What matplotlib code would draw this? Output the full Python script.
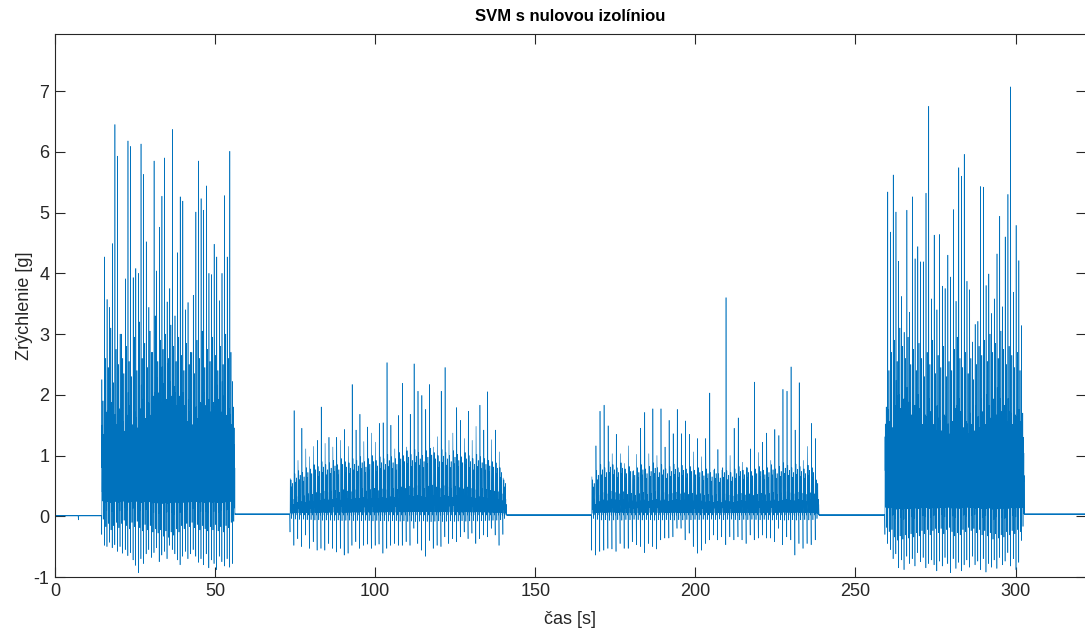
import numpy as np
import matplotlib
matplotlib.use("Agg")
import matplotlib.pyplot as plt

plt.rcParams["font.family"] = ["Liberation Sans", "DejaVu Sans"]
plt.rcParams["axes.unicode_minus"] = False

# ---- activity bursts (time in s) ----
burst_start = [14.6, 73.4, 167.6, 259.2]
burst_end = [56.2, 141.1, 238.7, 302.7]
burst_kind = ["run", "walk", "walk", "run"]
band_floor = [0.30, 0.02, 0.02, 0.20]

# burst 1 (running)
peaks_1 = [2.25, 4.27, 3.57, 3.44, 4.49, 6.45, 5.93, 3.00, 2.60, 3.91,
           6.18, 6.09, 3.93, 4.08, 4.00, 6.13, 5.63, 4.52, 3.44, 2.70,
           5.85, 4.04, 4.76, 5.27, 5.90, 3.53, 3.75, 6.37, 3.30, 4.34,
           5.26, 5.19, 3.40, 3.52, 2.70, 3.64, 5.01, 5.85, 5.23, 5.04,
           5.44, 4.00, 3.98, 4.48, 4.27, 3.55, 4.00, 5.28, 4.27, 6.01,
           2.22]
troughs_1 = [-0.30, -0.48, -0.50, -0.43, -0.52, -0.47, -0.58, -0.50, -0.61, -0.55,
             -0.65, -0.60, -0.72, -0.81, -0.93, -0.70, -0.78, -0.62, -0.55, -0.68,
             -0.60, -0.52, -0.75, -0.64, -0.58, -0.70, -0.48, -0.55, -0.62, -0.72,
             -0.80, -0.66, -0.58, -0.70, -0.62, -0.55, -0.66, -0.76, -0.70, -0.80,
             -0.62, -0.85, -0.72, -0.78, -0.88, -0.66, -0.75, -0.82, -0.70, -0.84,
             -0.78]
band_top_1 = [1.30, 1.65, 1.50, 1.80, 1.60, 1.45, 1.70, 1.50, 1.35, 1.60,
              1.75, 1.45, 1.65, 1.40, 1.70, 1.85, 1.55, 1.80, 1.60, 1.90,
              1.75, 1.95, 1.80, 2.10, 1.85, 2.15, 1.90, 2.05, 1.75, 1.90,
              1.60, 1.75, 1.50, 1.65, 1.45, 1.70, 1.55, 1.80, 1.60, 1.75,
              1.85, 1.65, 1.80, 1.55, 1.85, 1.65, 1.90, 1.60, 1.70, 1.45,
              1.40]
second_1 = [1.90, 2.60, 2.45, 3.10, 2.20, 2.75, 2.50, 3.00, 2.35, 2.80,
            2.55, 2.30, 2.95, 2.40, 3.20, 2.60, 2.85, 2.45, 3.05, 2.70,
            3.30, 2.55, 2.90, 2.75, 3.00, 2.60, 3.15, 2.80, 2.55, 2.95,
            2.65, 2.40, 2.85, 2.50, 2.70, 2.35, 2.90, 2.60, 3.05, 2.45,
            2.75, 2.55, 2.95, 2.65, 2.40, 2.80, 2.50, 3.00, 2.60, 2.70,
            1.80]

# burst 2 (walking)
peaks_2 = [0.62, 1.74, 0.92, 1.45, 1.11, 0.98, 1.15, 1.25, 1.80, 1.20,
           1.30, 1.14, 1.30, 1.25, 1.43, 1.15, 2.17, 1.42, 1.68, 1.23,
           1.47, 1.37, 1.22, 1.53, 1.54, 2.53, 1.50, 1.11, 1.66, 2.19,
           1.14, 1.68, 2.51, 2.06, 1.99, 1.76, 2.17, 1.14, 1.31, 2.06,
           2.45, 1.25, 1.37, 1.79, 1.58, 1.28, 1.73, 1.25, 1.48, 1.83,
           1.42, 2.05, 1.26, 1.42, 1.06, 0.63]
troughs_2 = [-0.26, -0.48, -0.37, -0.50, -0.31, -0.53, -0.42, -0.56, -0.53, -0.56,
             -0.45, -0.53, -0.59, -0.53, -0.64, -0.61, -0.48, -0.42, -0.53, -0.48,
             -0.46, -0.53, -0.48, -0.46, -0.61, -0.53, -0.48, -0.45, -0.48, -0.48,
             -0.42, -0.48, -0.20, -0.45, -0.56, -0.66, -0.40, -0.53, -0.48, -0.50,
             -0.34, -0.45, -0.37, -0.42, -0.34, -0.26, -0.37, -0.28, -0.45, -0.37,
             -0.31, -0.34, -0.20, -0.31, -0.48, -0.30]
band_top_2 = [0.60, 0.70, 0.75, 0.72, 0.80, 0.78, 0.85, 0.82, 0.90, 0.85,
              0.88, 0.92, 0.85, 0.95, 0.90, 0.88, 0.95, 0.92, 0.98, 0.90,
              0.95, 1.00, 0.92, 0.98, 0.95, 1.02, 0.98, 0.95, 1.05, 1.00,
              1.08, 1.02, 1.10, 1.05, 1.00, 1.08, 1.12, 1.05, 1.00, 1.10,
              1.05, 1.00, 1.08, 1.02, 0.98, 1.05, 1.00, 0.95, 1.02, 0.98,
              0.95, 0.92, 0.90, 0.88, 0.80, 0.60]

# burst 3 (walking)
peaks_3 = [0.65, 1.16, 1.73, 1.83, 1.49, 1.03, 1.35, 1.03, 0.87, 1.16,
           0.74, 1.02, 1.45, 1.71, 1.03, 1.77, 1.00, 1.77, 1.14, 1.58,
           1.36, 1.76, 1.36, 1.57, 1.35, 1.06, 1.28, 0.98, 1.28, 2.03,
           0.76, 1.10, 0.76, 3.60, 1.00, 1.45, 1.62, 0.89, 0.81, 1.11,
           2.21, 1.05, 1.22, 1.37, 0.92, 1.43, 1.33, 2.09, 2.06, 2.46,
           1.42, 2.20, 0.92, 1.15, 1.53, 1.28]
troughs_3 = [-0.56, -0.64, -0.58, -0.56, -0.53, -0.54, -0.58, -0.45, -0.53, -0.53,
             -0.42, -0.47, -0.50, -0.60, -0.45, -0.50, -0.54, -0.39, -0.36, -0.36,
             -0.34, -0.20, -0.20, -0.39, -0.28, -0.50, -0.61, -0.56, -0.45, -0.39,
             -0.31, -0.39, -0.34, -0.47, -0.34, -0.39, -0.34, -0.39, -0.45, -0.31,
             -0.39, -0.36, -0.31, -0.36, -0.36, -0.42, -0.20, -0.47, -0.34, -0.39,
             -0.64, -0.45, -0.53, -0.45, -0.47, -0.39]
band_top_3 = [0.60, 0.75, 0.85, 0.80, 0.90, 0.85, 0.80, 0.88, 0.78, 0.82,
              0.75, 0.80, 0.85, 0.78, 0.82, 0.88, 0.80, 0.85, 0.78, 0.82,
              0.86, 0.80, 0.84, 0.78, 0.82, 0.76, 0.80, 0.74, 0.78, 0.72,
              0.78, 0.70, 0.80, 0.75, 0.72, 0.78, 0.82, 0.76, 0.80, 0.74,
              0.78, 0.82, 0.76, 0.80, 0.85, 0.78, 0.82, 0.88, 0.84, 0.80,
              0.86, 0.82, 0.78, 0.84, 0.80, 0.60]

# burst 4 (running)
peaks_4 = [1.31, 5.34, 4.68, 5.62, 5.01, 4.20, 3.62, 3.03, 5.04, 3.36,
           5.26, 4.24, 4.44, 4.19, 4.19, 5.32, 6.75, 3.58, 4.63, 3.40,
           4.64, 3.79, 3.75, 4.30, 3.94, 5.05, 3.54, 5.74, 5.60, 5.96,
           3.87, 3.73, 2.87, 3.16, 3.21, 5.43, 5.42, 3.80, 3.99, 3.34,
           3.58, 4.32, 4.94, 3.45, 4.60, 5.30, 7.07, 3.69, 4.79, 4.21,
           3.14]
troughs_4 = [-0.30, -0.45, -0.55, -0.70, -0.62, -0.85, -0.72, -0.88, -0.66, -0.78,
             -0.70, -0.82, -0.60, -0.75, -0.68, -0.85, -0.78, -0.72, -0.80, -0.90,
             -0.74, -0.82, -0.68, -0.78, -0.93, -0.70, -0.86, -0.76, -0.90, -0.80,
             -0.72, -0.84, -0.66, -0.80, -0.74, -0.88, -0.70, -0.92, -0.78, -0.84,
             -0.72, -0.86, -0.68, -0.80, -0.74, -0.60, -0.82, -0.70, -0.88, -0.76,
             -0.40]
band_top_4 = [1.30, 1.50, 1.40, 1.75, 1.90, 1.70, 1.85, 1.65, 1.80, 1.60,
              1.75, 1.55, 1.70, 1.45, 1.60, 1.40, 1.65, 1.45, 1.35, 1.55,
              1.35, 1.60, 1.40, 1.30, 1.50, 1.70, 1.55, 1.65, 1.40, 1.50,
              1.30, 1.45, 1.35, 1.55, 1.40, 1.65, 1.45, 1.70, 1.55, 1.85,
              1.60, 1.80, 1.65, 1.75, 1.50, 1.65, 1.45, 1.60, 1.40, 1.50,
              1.25]
second_4 = [1.80, 2.40, 2.70, 2.90, 2.55, 3.10, 2.80, 2.60, 2.95, 2.50,
            2.75, 2.40, 2.85, 2.60, 2.30, 2.70, 2.50, 2.90, 2.35, 2.65,
            2.45, 2.80, 2.30, 2.55, 2.40, 2.75, 2.95, 2.60, 2.45, 2.70,
            2.35, 2.60, 2.25, 2.50, 2.80, 2.65, 2.90, 2.55, 3.00, 2.70,
            2.85, 2.60, 3.05, 2.75, 2.50, 2.80, 2.65, 2.45, 2.70, 2.40,
            1.70]

# ---- resting segments ----
rest_level = [0.010, 0.035, 0.020, 0.020, 0.035]
rest_ripple = 0.012
blip_time = [7.3]
blip_value = [-0.06]
t_end = 322.0

# stride waveform templates: fraction of the band between floor and top
run_shape = [0.50, 1.20, 0.10, 0.75, 0.30, 0.95, -0.05, 0.60, 0.40,
             0.85, -0.35, 0.65, 0.20, 1.05, 0.05, 0.55, 0.35, 0.80, -0.15, 0.45]
walk_shape = [0.55, 0.05, 1.00, 0.15, 0.80, -0.10, 0.65, 0.05,
              0.90, 0.20, 0.45, 0.00, 0.30, 0.05]

peaks = [peaks_1, peaks_2, peaks_3, peaks_4]
troughs = [troughs_1, troughs_2, troughs_3, troughs_4]
band_top = [band_top_1, band_top_2, band_top_3, band_top_4]
second = [second_1, None, None, second_4]


def stride_values(kind, lo, trough, peak, top, sec):
    body = [lo + (top - lo) * s for s in (run_shape if kind == "run" else walk_shape)]
    if kind == "run":
        return [trough, peak] + body[:9] + [sec] + body[9:]
    return [trough, peak] + body


def rest_segment(t0, t1, level):
    n = max(int(round((t1 - t0) / 0.08)), 2)
    ts = list(np.linspace(t0, t1, n, endpoint=False))
    vs = [level + (rest_ripple / 2 if k % 2 else -rest_ripple / 2) for k in range(n)]
    for bt, bv in zip(blip_time, blip_value):
        if t0 <= bt < t1:
            k = int(np.argmin(np.abs(np.array(ts) - bt)))
            vs[k] = bv
    return ts, vs


t_all, v_all = [], []
edges = [0.0] + [x for pair in zip(burst_start, burst_end) for x in pair] + [t_end]
for b in range(len(burst_start) + 1):
    ts, vs = rest_segment(edges[2 * b], edges[2 * b + 1], rest_level[b])
    t_all += ts
    v_all += vs
    if b == len(burst_start):
        break
    t0, t1 = burst_start[b], burst_end[b]
    n = len(peaks[b])
    dt = (t1 - t0) / n
    for i in range(n):
        sec = second[b][i] if second[b] is not None else None
        vals = stride_values(burst_kind[b], band_floor[b], troughs[b][i],
                             peaks[b][i], band_top[b][i], sec)
        ts = np.linspace(t0 + i * dt, t0 + (i + 1) * dt, len(vals), endpoint=False)
        t_all += list(ts)
        v_all += vals
t_all.append(t_end)
v_all.append(rest_level[-1])

# ---- figure ----
fig = plt.figure(figsize=(10.85, 6.28), dpi=100)
ax = fig.add_axes([55 / 1085, 51 / 628, 1031 / 1085, 543 / 628])
ax.plot(t_all, v_all, color="#0072BD", lw=0.42)

ax.set_xlim(0, 322)
ax.set_ylim(-1, 7.94)
ax.set_xticks([0, 50, 100, 150, 200, 250, 300])
ax.set_yticks(range(-1, 8))

axis_col = "#262626"
for sp in ax.spines.values():
    sp.set_color(axis_col)
    sp.set_linewidth(0.8)
ax.tick_params(direction="in", length=7.5, width=0.8, colors=axis_col,
               labelsize=13, top=True, right=True, pad=4)

ax.set_title("SVM s nulovou izolíniou", fontsize=12, fontweight="bold", pad=9.5)
ax.set_xlabel("čas [s]", fontsize=13, color=axis_col, labelpad=8)
ax.set_ylabel("Zrýchlenie [g]", fontsize=13, color=axis_col, labelpad=0.5)

fig.savefig("out.png", dpi=100)
